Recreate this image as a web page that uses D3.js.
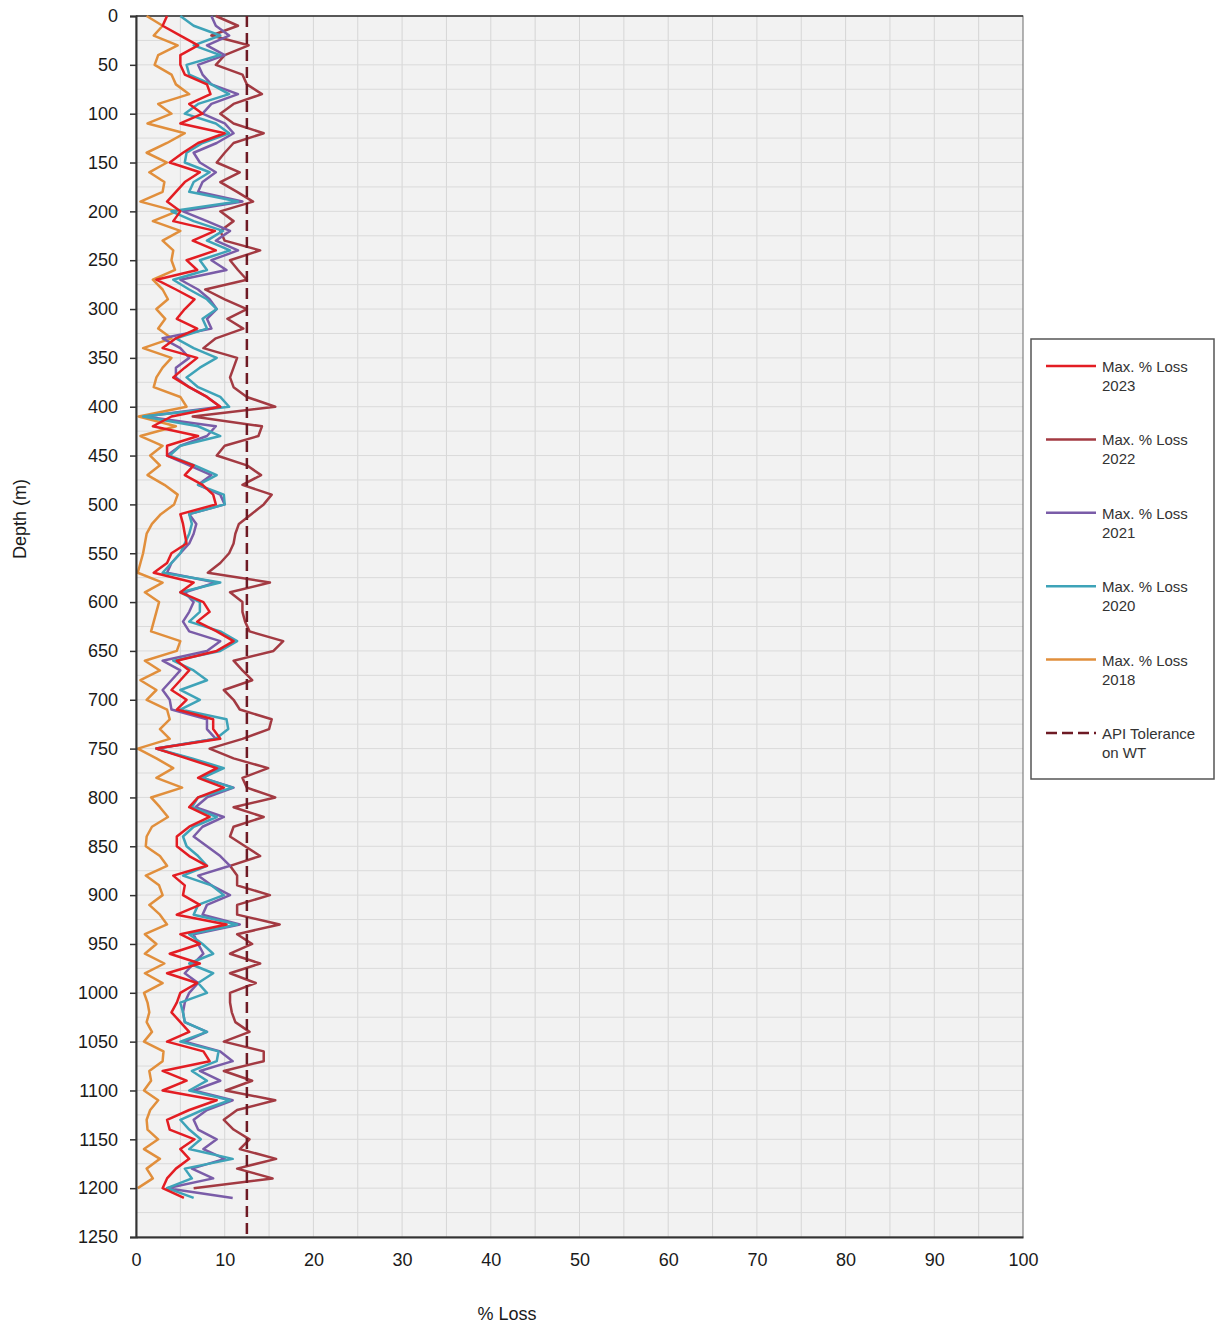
<!DOCTYPE html>
<html>
<head>
<meta charset="utf-8">
<script src="https://cdn.jsdelivr.net/npm/d3@7"></script>
<style>
  body { margin: 0; background: #fff; }
  text { font-family: "Liberation Sans", Arial, sans-serif; }
</style>
</head>
<body>
<div id="app"></div>
<script>
// depth of each reading (m)
const depths = [
  0, 10, 20, 30, 40, 50, 60, 70, 80, 90,
  100, 110, 120, 130, 140, 150, 160, 170, 180, 190,
  200, 210, 220, 230, 240, 250, 260, 270, 280, 290,
  300, 310, 320, 330, 340, 350, 360, 370, 380, 390,
  400, 410, 420, 430, 440, 450, 460, 470, 480, 490,
  500, 510, 520, 530, 540, 550, 560, 570, 580, 590,
  600, 610, 620, 630, 640, 650, 660, 670, 680, 690,
  700, 710, 720, 730, 740, 750, 760, 770, 780, 790,
  800, 810, 820, 830, 840, 850, 860, 870, 880, 890,
  900, 910, 920, 930, 940, 950, 960, 970, 980, 990,
  1000, 1010, 1020, 1030, 1040, 1050, 1060, 1070, 1080, 1090,
  1100, 1110, 1120, 1130, 1140, 1150, 1160, 1170, 1180, 1190,
  1200, 1210
]

// max % loss per survey year
const loss2023 = [
  3.5, 3.0, 5.0, 7.0, 5.0, 5.0, 5.5, 8.0, 8.4, 6.0,
  7.5, 5.0, 10.0, 7.0, 5.3, 3.8, 7.2, 5.5, 4.5, 3.5,
  5.0, 4.2, 8.9, 6.4, 9.0, 5.7, 6.9, 2.3, 4.5, 6.6,
  5.5, 4.6, 6.9, 4.5, 3.0, 6.9, 5.5, 4.2, 6.0, 8.0,
  9.5, 4.0, 1.9, 7.0, 3.5, 3.5, 6.5, 5.5, 7.5, 8.7,
  9.0, 5.0, 5.3, 5.5, 5.7, 4.0, 3.5, 2.0, 6.5, 5.0,
  7.6, 8.3, 6.9, 9.1, 11.0, 9.1, 4.6, 6.0, 5.0, 4.0,
  5.7, 4.6, 8.7, 8.7, 9.5, 2.3, 5.7, 9.1, 7.0, 9.9,
  7.0, 6.0, 8.3, 6.0, 4.6, 4.6, 6.0, 8.0, 4.2, 5.5,
  5.3, 7.2, 4.6, 10.2, 5.0, 7.2, 3.8, 7.2, 3.5, 6.9,
  5.0, 4.6, 4.0, 5.0, 6.0, 3.5, 7.6, 8.3, 3.0, 5.7,
  3.0, 9.1, 6.0, 3.5, 3.8, 6.6, 5.0, 6.0, 4.5, 3.5,
  3.0, 5.4
]
const loss2022 = [
  9.0, 11.5, 8.5, 12.7, 10.0, 9.0, 12.0, 12.5, 14.2, 11.0,
  9.5, 11.0, 14.4, 11.0, 10.0, 9.1, 11.7, 9.5, 11.4, 13.2,
  9.5, 11.0, 9.5, 10.0, 14.0, 10.6, 11.5, 12.5, 7.8, 10.0,
  12.5, 10.3, 12.1, 9.0, 7.6, 11.4, 11.0, 10.6, 11.0, 12.5,
  15.7, 6.4, 14.2, 13.8, 10.0, 9.1, 12.5, 14.1, 12.0, 15.3,
  14.4, 13.0, 11.6, 11.2, 11.0, 10.5, 9.5, 8.1, 15.1, 10.6,
  12.0, 12.0, 12.3, 12.8, 16.6, 15.5, 11.0, 12.0, 13.1, 9.9,
  11.0, 11.7, 15.3, 15.0, 12.0, 8.3, 11.0, 14.9, 12.0, 12.5,
  15.7, 11.0, 14.4, 11.0, 10.6, 12.3, 14.0, 10.6, 11.4, 11.4,
  15.1, 11.4, 11.4, 16.2, 11.4, 13.1, 10.6, 14.0, 10.6, 13.5,
  10.6, 10.6, 10.8, 11.2, 12.8, 9.9, 14.4, 14.4, 9.9, 13.1,
  10.1, 15.7, 11.4, 9.9, 11.0, 12.8, 11.7, 15.8, 11.4, 15.4,
  6.5
]
const loss2021 = [
  8.5, 9.0, 10.5, 8.0, 10.0, 7.0, 7.5, 8.5, 11.5, 8.5,
  7.5, 10.0, 11.0, 9.1, 6.5, 7.2, 9.0, 7.5, 7.0, 12.0,
  5.3, 8.0, 10.6, 9.0, 11.5, 8.5, 10.2, 5.0, 7.0, 8.3,
  9.1, 8.0, 8.5, 3.0, 5.0, 6.0, 4.5, 4.5, 6.0, 8.0,
  9.5, 1.0, 9.0, 8.0, 5.0, 3.5, 6.0, 8.5, 7.0, 9.5,
  10.0, 6.0, 6.8, 6.5, 6.0, 5.0, 4.0, 3.5, 9.0, 5.5,
  6.5, 6.0, 5.3, 6.0, 9.5, 8.0, 3.0, 5.0, 4.0, 3.0,
  3.8, 4.0, 8.0, 8.0, 9.0, 2.3, 6.0, 9.5, 7.5, 11.0,
  8.0, 6.7, 9.9, 7.5, 6.5, 8.0, 9.5, 10.6, 7.0, 8.5,
  10.6, 8.0, 7.5, 11.7, 6.5, 7.0, 7.6, 6.5, 5.5, 7.0,
  6.0, 5.5, 5.3, 5.5, 8.0, 5.5, 9.5, 10.9, 7.2, 9.5,
  6.5, 10.9, 8.0, 6.5, 7.0, 9.1, 7.6, 10.0, 6.3, 8.7,
  3.5, 10.9
]
const loss2020 = [
  5.0, 6.5, 9.5, 6.5, 9.5, 5.7, 6.0, 8.5, 10.5, 7.0,
  5.5, 9.0, 10.5, 7.5, 5.7, 5.5, 8.3, 6.5, 6.0, 11.5,
  4.0, 6.5, 9.8, 8.0, 10.6, 7.2, 8.0, 4.2, 6.0, 8.0,
  9.1, 7.5, 8.0, 4.5, 6.5, 9.1, 7.2, 5.7, 7.0, 9.5,
  10.5, 0.8, 7.0, 9.5, 5.0, 3.8, 6.6, 9.1, 7.0, 9.9,
  10.0, 6.0, 6.3, 6.0, 5.5, 5.0, 4.0, 3.0, 9.5, 5.0,
  7.2, 7.2, 6.0, 9.5, 11.4, 9.5, 4.2, 6.5, 8.0, 5.0,
  7.2, 5.0, 10.2, 10.4, 9.0, 2.3, 6.3, 9.9, 7.5, 10.9,
  7.0, 6.3, 9.1, 6.5, 5.3, 5.7, 7.0, 8.0, 5.3, 8.5,
  9.9, 7.0, 6.5, 11.4, 6.0, 7.5, 8.7, 6.0, 8.7, 7.0,
  8.0, 5.0, 5.3, 5.5, 8.0, 5.0, 9.3, 9.1, 6.3, 8.0,
  6.0, 10.6, 7.5, 5.0, 6.0, 7.3, 6.0, 10.9, 5.5, 6.3,
  3.5, 6.5
]
const loss2018 = [
  1.2, 3.0, 2.0, 4.7, 2.5, 2.1, 4.0, 4.5, 6.0, 2.5,
  4.0, 1.3, 5.5, 3.5, 1.2, 3.5, 1.5, 3.2, 3.0, 0.5,
  4.6, 1.9, 5.0, 3.0, 4.2, 4.0, 4.4, 1.9, 3.0, 3.6,
  2.3, 3.3, 2.5, 4.0, 0.8, 4.0, 3.0, 2.3, 2.0, 5.0,
  5.7, 0.3, 4.5, 0.5, 3.0, 1.6, 2.7, 1.3, 3.2, 4.7,
  4.3, 2.8, 1.8, 1.2, 1.0, 0.8, 0.5, 0.2, 3.0, 1.0,
  2.6, 2.3, 2.0, 1.7, 5.0, 4.6, 1.0, 2.7, 0.5, 2.3,
  1.2, 3.5, 3.8, 2.7, 3.8, 0.2, 2.3, 4.2, 2.3, 5.2,
  1.7, 2.7, 3.6, 1.8, 1.2, 1.1, 2.7, 3.5, 1.1, 2.6,
  3.0, 1.5, 2.7, 3.5, 1.0, 2.3, 1.0, 3.2, 1.0, 3.0,
  0.9, 1.3, 1.5, 1.2, 1.8, 0.9, 3.1, 3.0, 1.5, 1.7,
  0.9, 2.5, 1.6, 1.2, 1.3, 2.5, 0.9, 2.7, 1.2, 1.9,
  0.2
]

const apiTolerance = 12.5
const xTicks = [0, 10, 20, 30, 40, 50, 60, 70, 80, 90, 100]
const yTicks = [0, 50, 100, 150, 200, 250, 300, 350, 400, 450, 500, 550, 600,
  650, 700, 750, 800, 850, 900, 950, 1000, 1050, 1100, 1150, 1200, 1250]
const seriesNames = ['Max. % Loss 2023', 'Max. % Loss 2022', 'Max. % Loss 2021', 'Max. % Loss 2020', 'Max. % Loss 2018']
const seriesColors = ['#e31d23', '#a33a42', '#7a5ca8', '#3ea3b8', '#e18f3c']
const seriesValues = [loss2023, loss2022, loss2021, loss2020, loss2018]
const tolName = ['API Tolerance', 'on WT']
const tolColor = '#6e1a24'

const W = 1221, H = 1326
const mLeft = 136, mRight = 1023, mTop = 16, mBottom = 1237

const svg = d3.select('#app').append('svg')
  .attr('width', W).attr('height', H)

const x = d3.scaleLinear().domain([0, 100]).range([mLeft, mRight])
const y = d3.scaleLinear().domain([0, 1250]).range([mTop, mBottom])

// plot background
svg.append('rect')
  .attr('x', mLeft).attr('y', mTop)
  .attr('width', mRight - mLeft).attr('height', mBottom - mTop)
  .attr('fill', '#f2f2f2')

// grid
svg.append('g').selectAll('line').data(d3.range(5, 100, 5)).join('line')
  .attr('x1', d => x(d)).attr('x2', d => x(d))
  .attr('y1', mTop).attr('y2', mBottom)
  .attr('stroke', '#d6d6d6').attr('stroke-width', 1)
svg.append('g').selectAll('line').data(d3.range(25, 1250, 25)).join('line')
  .attr('x1', mLeft).attr('x2', mRight)
  .attr('y1', d => y(d)).attr('y2', d => y(d))
  .attr('stroke', '#dadada').attr('stroke-width', 1)

// frame
svg.append('rect')
  .attr('x', mLeft).attr('y', mTop)
  .attr('width', mRight - mLeft).attr('height', mBottom - mTop)
  .attr('fill', 'none').attr('stroke', '#6b6b6b').attr('stroke-width', 1)
svg.append('line')
  .attr('x1', mLeft).attr('x2', mRight).attr('y1', mTop).attr('y2', mTop)
  .attr('stroke', '#3a3a3a').attr('stroke-width', 1.5)

// series lines
const line = d3.line().x(d => x(d[1])).y(d => y(d[0]))
const drawOrder = [1, 4, 2, 3, 0]
drawOrder.forEach(i => {
  const pts = seriesValues[i].map((v, k) => [depths[k], v])
  svg.append('path')
    .datum(pts)
    .attr('d', line)
    .attr('fill', 'none')
    .attr('stroke', seriesColors[i])
    .attr('stroke-width', 2.5)
    .attr('stroke-linejoin', 'round')
})

// API tolerance line
svg.append('line')
  .attr('x1', x(apiTolerance)).attr('x2', x(apiTolerance))
  .attr('y1', y(0)).attr('y2', y(1250))
  .attr('stroke', tolColor).attr('stroke-width', 2.5)
  .attr('stroke-dasharray', '11,6')

// axes
const yAxis = svg.append('g')
  .attr('transform', `translate(${mLeft},0)`)
  .call(d3.axisLeft(y).tickValues(yTicks).tickFormat(d3.format('d')).tickSize(6).tickPadding(12))
const xAxis = svg.append('g')
  .attr('transform', `translate(0,${mBottom})`)
  .call(d3.axisBottom(x).tickValues(xTicks).tickFormat(d3.format('d')).tickSize(0).tickPadding(16))
;[yAxis, xAxis].forEach(g => {
  g.select('.domain').attr('stroke', '#333').attr('stroke-width', 2)
  g.selectAll('.tick line').attr('stroke', '#333').attr('stroke-width', 1.5)
  g.selectAll('text')
    .attr('font-family', '"Liberation Sans", Arial, sans-serif')
    .attr('font-size', 18).attr('fill', '#1a1a1a')
})

// axis titles
svg.append('text')
  .attr('transform', 'translate(26,519) rotate(-90)')
  .attr('text-anchor', 'middle')
  .attr('font-size', 18).attr('fill', '#1a1a1a')
  .text('Depth (m)')
svg.append('text')
  .attr('x', 507).attr('y', 1320)
  .attr('text-anchor', 'middle')
  .attr('font-size', 18).attr('fill', '#1a1a1a')
  .text('% Loss')

// legend
const lg = svg.append('g')
lg.append('rect')
  .attr('x', 1031).attr('y', 339).attr('width', 183).attr('height', 440)
  .attr('fill', '#fff').attr('stroke', '#555').attr('stroke-width', 1.5)

const legendY = d3.scalePoint().domain(d3.range(6)).range([366, 733])
const entries = seriesNames.map((n, i) => ({
  lines: [n.slice(0, 11), n.slice(12)], color: seriesColors[i], dash: null
}))
entries.push({ lines: tolName, color: tolColor, dash: '11,5' })

entries.forEach((e, i) => {
  const cy = legendY(i)
  lg.append('line')
    .attr('x1', 1046).attr('x2', 1096).attr('y1', cy).attr('y2', cy)
    .attr('stroke', e.color).attr('stroke-width', 2.5)
    .attr('stroke-dasharray', e.dash)
  e.lines.forEach((t, j) => {
    lg.append('text')
      .attr('x', 1102).attr('y', cy + 6 + j * 19)
      .attr('font-size', 15).attr('fill', '#333')
      .text(t)
  })
})
</script>
</body>
</html>
